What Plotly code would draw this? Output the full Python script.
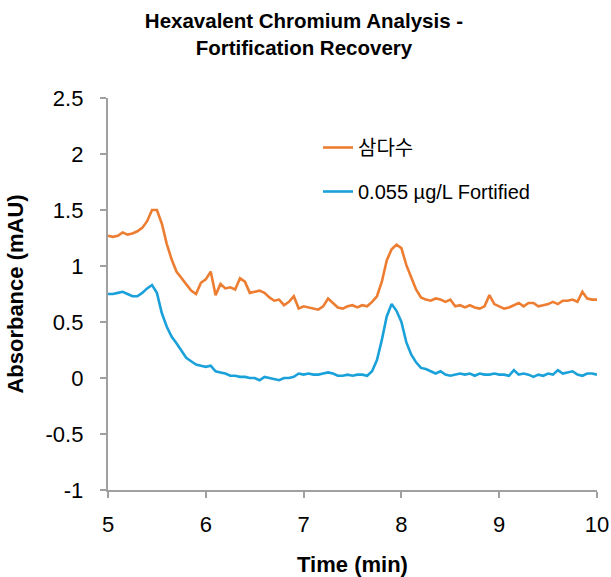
import plotly.graph_objects as go

time_min = [5.00, 5.05, 5.10, 5.15, 5.20, 5.25, 5.30, 5.35, 5.40, 5.45,
            5.50, 5.55, 5.60, 5.65, 5.70, 5.75, 5.80, 5.85, 5.90, 5.95,
            6.00, 6.05, 6.10, 6.15, 6.20, 6.25, 6.30, 6.35, 6.40, 6.45,
            6.50, 6.55, 6.60, 6.65, 6.70, 6.75, 6.80, 6.85, 6.90, 6.95,
            7.00, 7.05, 7.10, 7.15, 7.20, 7.25, 7.30, 7.35, 7.40, 7.45,
            7.50, 7.55, 7.60, 7.65, 7.70, 7.75, 7.80, 7.85, 7.90, 7.95,
            8.00, 8.05, 8.10, 8.15, 8.20, 8.25, 8.30, 8.35, 8.40, 8.45,
            8.50, 8.55, 8.60, 8.65, 8.70, 8.75, 8.80, 8.85, 8.90, 8.95,
            9.00, 9.05, 9.10, 9.15, 9.20, 9.25, 9.30, 9.35, 9.40, 9.45,
            9.50, 9.55, 9.60, 9.65, 9.70, 9.75, 9.80, 9.85, 9.90, 9.95,
            10.00]

samdasoo = [1.27, 1.26, 1.27, 1.30, 1.28, 1.29, 1.31, 1.34, 1.40, 1.50,
            1.50, 1.38, 1.20, 1.06, 0.95, 0.89, 0.84, 0.78, 0.75, 0.85,
            0.88, 0.95, 0.74, 0.84, 0.80, 0.81, 0.79, 0.89, 0.86, 0.76,
            0.77, 0.78, 0.76, 0.72, 0.69, 0.70, 0.65, 0.68, 0.73, 0.62,
            0.64, 0.63, 0.62, 0.61, 0.64, 0.71, 0.67, 0.63, 0.62, 0.64,
            0.65, 0.63, 0.65, 0.64, 0.68, 0.73, 0.86, 1.05, 1.15, 1.19,
            1.16, 1.01, 0.90, 0.79, 0.72, 0.70, 0.69, 0.71, 0.70, 0.68,
            0.70, 0.64, 0.65, 0.63, 0.65, 0.63, 0.62, 0.64, 0.74, 0.66,
            0.64, 0.62, 0.63, 0.65, 0.67, 0.64, 0.67, 0.67, 0.64, 0.65,
            0.66, 0.68, 0.66, 0.69, 0.69, 0.70, 0.68, 0.77, 0.71, 0.70,
            0.70]

fortified = [0.75, 0.75, 0.76, 0.77, 0.75, 0.73, 0.73, 0.76, 0.80, 0.83,
             0.76, 0.58, 0.46, 0.37, 0.31, 0.25, 0.18, 0.15, 0.12, 0.11,
             0.10, 0.11, 0.06, 0.05, 0.04, 0.02, 0.02, 0.01, 0.01, 0.00,
             0.00, -0.02, 0.01, 0.00, -0.01, -0.02, 0.00, 0.00, 0.01, 0.04,
             0.03, 0.04, 0.03, 0.03, 0.04, 0.05, 0.04, 0.02, 0.02, 0.03,
             0.02, 0.03, 0.03, 0.02, 0.06, 0.16, 0.34, 0.55, 0.66, 0.60,
             0.50, 0.32, 0.21, 0.14, 0.09, 0.08, 0.06, 0.04, 0.06, 0.03,
             0.02, 0.03, 0.04, 0.03, 0.04, 0.02, 0.04, 0.03, 0.03, 0.04,
             0.03, 0.03, 0.02, 0.07, 0.03, 0.04, 0.03, 0.01, 0.03, 0.02,
             0.04, 0.03, 0.07, 0.04, 0.05, 0.06, 0.03, 0.02, 0.04, 0.04,
             0.03]

series_names = ["삼다수", "0.055 µg/L Fortified"]
x_ticks = [5, 6, 7, 8, 9, 10]
y_ticks = [-1, -0.5, 0, 0.5, 1, 1.5, 2, 2.5]
y_tick_labels = ["-1", "-0.5", "0", "0.5", "1", "1.5", "2", "2.5"]

FONT = "Liberation Sans, Arial, sans-serif"
AXIS_GRAY = "#a0a0a0"
PAD = "\u00a0\u00a0"

fig = go.Figure()
fig.add_trace(go.Scatter(x=time_min, y=samdasoo, mode="lines", name=series_names[0],
                         legendgroup="a",
                         line=dict(color="#ED7D31", width=2.6)))
fig.add_trace(go.Scatter(x=time_min, y=fortified, mode="lines", name=series_names[1],
                         legendgroup="b",
                         line=dict(color="#1BA1DA", width=2.6)))

fig.update_layout(
    width=611, height=577,
    margin=dict(l=108, r=14, t=98, b=87),
    paper_bgcolor="white", plot_bgcolor="white",
    font=dict(family=FONT, color="#000000"),
    title=dict(text="<b>Hexavalent Chromium Analysis -<br>Fortification Recovery</b>",
               x=0.4975, xanchor="center", xref="container",
               y=1 - 28 / 577, yanchor="middle", yref="container",
               font=dict(size=20.5, family=FONT, color="#000000")),
    legend=dict(x=(318 - 108) / 489, y=(490 - 128) / 392, xanchor="left", yanchor="top",
                bgcolor="rgba(0,0,0,0)", tracegroupgap=15,
                font=dict(size=20, family="Liberation Sans, Noto Sans CJK KR, sans-serif",
                          color="#000000")),
    xaxis=dict(range=[5, 10], tickvals=x_ticks, ticktext=[str(v) for v in x_ticks],
               showgrid=False, zeroline=False, showline=True, linecolor=AXIS_GRAY,
               linewidth=2, ticks="outside", ticklen=6, tickwidth=2, tickcolor=AXIS_GRAY,
               tickfont=dict(size=22, family=FONT), ticklabelstandoff=8, automargin=False,
               title=dict(text="<b>Time (min)</b>", font=dict(size=22, family=FONT), standoff=22)),
    yaxis=dict(range=[-1, 2.5], tickvals=y_ticks, ticktext=[t + PAD for t in y_tick_labels],
               showgrid=False, zeroline=False, showline=True, linecolor=AXIS_GRAY,
               linewidth=2, ticks="outside", ticklen=6, tickwidth=2, tickcolor=AXIS_GRAY,
               tickfont=dict(size=22, family=FONT), automargin=False,
               title=dict(text="<b>Absorbance (mAU)</b>", font=dict(size=22, family=FONT), standoff=16)),
)

fig.write_html("out.html", config={"displayModeBar": False},
               post_script="document.body.style.margin='0';")
